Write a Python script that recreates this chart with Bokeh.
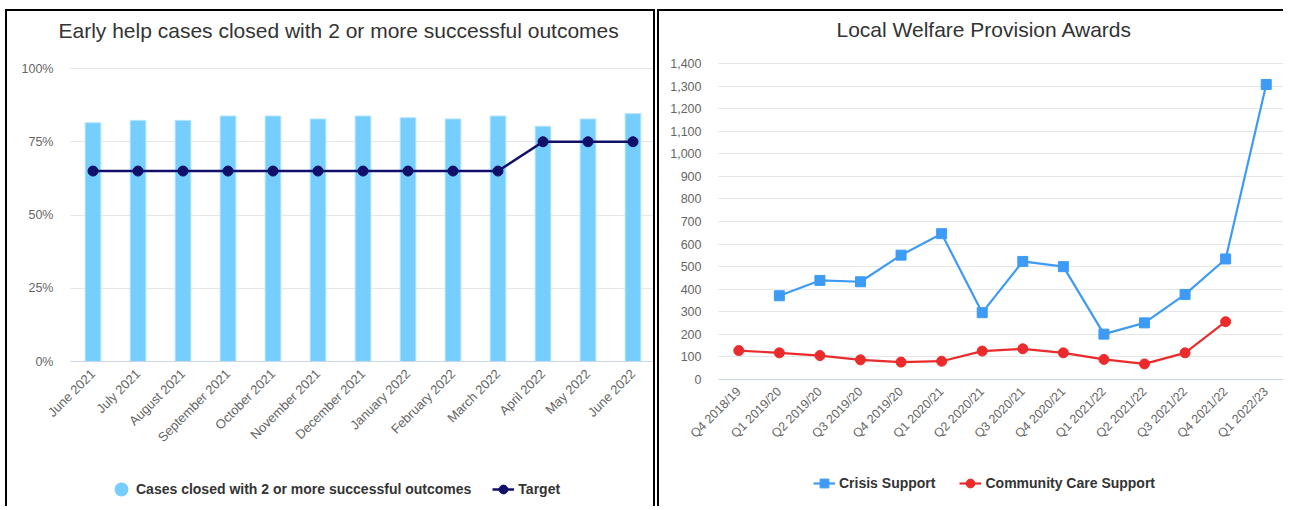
import math
from bokeh.plotting import figure
from bokeh.models import (Range1d, FixedTicker, PrintfTickFormatter, NumeralTickFormatter,
                          Legend, LegendItem, ColumnDataSource, BoxAnnotation)
from bokeh.layouts import row
from bokeh.embed import file_html
from bokeh.resources import INLINE

# ---------------- data ----------------
months = ["June 2021", "July 2021", "August 2021", "September 2021", "October 2021",
          "November 2021", "December 2021", "January 2022", "February 2022",
          "March 2022", "April 2022", "May 2022", "June 2022"]
cases_pct = [81.5, 82.3, 82.3, 83.8, 83.8, 82.8, 83.8, 83.2, 82.8, 83.8, 80.3, 82.8, 84.6]
target_pct = [65, 65, 65, 65, 65, 65, 65, 65, 65, 65, 75, 75, 75]
left_y_ticks = [0, 25, 50, 75, 100]

quarters = ["Q4 2018/19", "Q1 2019/20", "Q2 2019/20", "Q3 2019/20", "Q4 2019/20",
            "Q1 2020/21", "Q2 2020/21", "Q3 2020/21", "Q4 2020/21", "Q1 2021/22",
            "Q2 2021/22", "Q3 2021/22", "Q4 2021/22", "Q1 2022/23"]
nan = float("nan")
crisis_support = [nan, 371, 439, 433, 551, 646, 296, 523, 500, 201, 251, 377, 534, 1307]
community_care = [128, 118, 106, 87, 77, 81, 126, 136, 118, 89, 69, 118, 256, nan]
right_y_ticks = [0, 100, 200, 300, 400, 500, 600, 700, 800, 900, 1000, 1100, 1200, 1300, 1400]

# ---------------- style ----------------
FONT = "Liberation Sans"
BAR = "#76CEFE"
NAVY = "#10106A"
BLUE = "#3E9BF5"
RED = "#EB2B2B"
GRID = "#E6E6E6"
LABEL = "#666666"

H = 497            # canvas height (both charts)
TOP = 32           # space above plot frame (title area)
MB_LEFT = 2        # frame starts almost at the canvas edge; axes drawn inside


def y_range_for(vmin, vmax, px_min, px_max):
    """Value range such that vmin/vmax sit at given pixel rows (from canvas top)."""
    ppu = (px_min - px_max) / (vmax - vmin)
    return Range1d(vmin - (H - px_min) / ppu, vmax + (px_max - TOP) / ppu)


def x_range_for(n, px_left, px_right, width):
    """Numeric category range: n slots between px_left..px_right (from canvas left)."""
    step = (px_right - px_left) / n
    frame_left = MB_LEFT
    frame_right = width
    return Range1d(-0.5 - (px_left - frame_left) / step, n - 0.5 + (frame_right - px_right) / step)


def style(p, labels, title_offset, title_standoff, xlabel_size):
    n = len(labels)
    p.outline_line_color = None
    p.background_fill_color = "white"
    p.border_fill_color = "white"
    p.title.text_font = FONT
    p.title.text_font_size = "21px"
    p.title.text_font_style = "normal"
    p.title.text_color = "#333333"
    p.title.align = "left"
    p.title.offset = title_offset
    p.title.standoff = title_standoff
    p.xgrid.grid_line_color = None
    p.ygrid.grid_line_color = GRID
    p.ygrid.grid_line_width = 1
    for ax in (p.xaxis[0], p.yaxis[0]):
        ax.major_tick_in = 0
        ax.major_tick_out = 0
        ax.minor_tick_in = 0
        ax.minor_tick_out = 0
        ax.major_label_text_font = FONT
        ax.major_label_text_color = LABEL
    p.xaxis.ticker = FixedTicker(ticks=list(range(n)))
    p.xaxis.major_label_overrides = {i: lab for i, lab in enumerate(labels)}
    p.xaxis.major_label_text_font_size = xlabel_size
    p.yaxis.major_label_text_font_size = "12.5px"
    p.xaxis.axis_line_color = "#CCD6EB"
    p.xaxis.axis_line_width = 1
    p.xaxis.fixed_location = 0
    p.xaxis.bounds = (-0.5, n - 0.5)
    p.xaxis.major_label_orientation = math.pi / 4
    p.xaxis.major_label_standoff = 10
    p.yaxis.axis_line_color = None
    p.yaxis.fixed_location = -0.5
    p.yaxis.major_label_standoff = 17
    # hide grid lines left of the plotting area (where the y labels sit)
    p.add_layout(BoxAnnotation(left=p.x_range.start, right=-0.5,
                               bottom=p.y_range.start, top=p.y_range.end,
                               fill_color="white", fill_alpha=1, line_alpha=0,
                               level="underlay"))


def add_legend(p, items, x, y, spacing):
    lg = Legend(items=items, location=(x, y), orientation="horizontal",
                glyph_width=22, glyph_height=22, label_standoff=4,
                padding=0, margin=0, spacing=spacing, border_line_color=None,
                background_fill_alpha=0, label_height=16,
                label_text_font=FONT, label_text_font_size="14px",
                label_text_font_style="bold", label_text_color="#333333")
    p.add_layout(lg, "center")


# ---------------- left chart ----------------
W1 = 650
x1 = list(range(len(months)))
src1 = ColumnDataSource(dict(x=x1, cases=cases_pct, target=target_pct))
p1 = figure(x_range=x_range_for(len(months), 70 - 7, 655 - 7, W1 - 2),
            y_range=y_range_for(0, 100, 361 - 11, 68 - 11),
            width=W1, height=H, output_backend="svg", toolbar_location=None,
            min_border_left=MB_LEFT, min_border_right=2, min_border_top=TOP, min_border_bottom=0,
            title="Early help cases closed with 2 or more successful outcomes")
style(p1, months, 58 - 7 - MB_LEFT, 3, "13px")
p1.yaxis.ticker = FixedTicker(ticks=left_y_ticks)
p1.yaxis.formatter = PrintfTickFormatter(format="%d%%")

p1.vbar(x="x", top="cases", width=0.35, source=src1,
        fill_color=BAR, line_color="#B8E6FF", line_width=1)
t_line = p1.line(x="x", y="target", source=src1, line_color=NAVY, line_width=2.5)
t_pts = p1.scatter(x="x", y="target", source=src1, marker="circle", size=10,
                   fill_color=NAVY, line_color=NAVY)
legend_dot = p1.scatter(x=x1[:1], y=[nan], marker="circle",
                        fill_color=BAR, line_color=BAR, line_width=5)

add_legend(p1, [LegendItem(label="Cases closed with 2 or more successful outcomes",
                           renderers=[legend_dot]),
                LegendItem(label="Target", renderers=[t_line, t_pts])],
           110 - 7 - MB_LEFT, 8, 21)

# ---------------- right chart ----------------
W2 = 626
x2 = list(range(len(quarters)))
src2 = ColumnDataSource(dict(x=x2, crisis=crisis_support, community=community_care))
p2 = figure(x_range=x_range_for(len(quarters), 722 - 663, 1290 - 663, W2),
            y_range=y_range_for(0, 1400, 379 - 11, 63 - 11),
            width=W2, height=H, output_backend="svg", toolbar_location=None,
            min_border_left=MB_LEFT, min_border_right=0, min_border_top=TOP, min_border_bottom=0,
            title="Local Welfare Provision Awards")
style(p2, quarters, 840 - 663 - MB_LEFT, 5, "12.5px")
p2.yaxis.ticker = FixedTicker(ticks=right_y_ticks)
p2.yaxis.formatter = NumeralTickFormatter(format="0,0")

c_line = p2.line(x="x", y="crisis", source=src2, line_color=BLUE, line_width=2.2)
c_pts = p2.scatter(x="x", y="crisis", source=src2, marker="square", size=10,
                   fill_color=BLUE, line_color=BLUE)
k_line = p2.line(x="x", y="community", source=src2, line_color=RED, line_width=2.2)
k_pts = p2.scatter(x="x", y="community", source=src2, marker="circle", size=10,
                   fill_color=RED, line_color=RED)

add_legend(p2, [LegendItem(label="Crisis Support", renderers=[c_line, c_pts]),
                LegendItem(label="Community Care Support", renderers=[k_line, k_pts])],
           817 - 663 - MB_LEFT, 14, 24)

p1.styles = {"border-top": "2px solid #000", "border-left": "2px solid #000",
             "border-right": "2px solid #000"}
p2.styles = {"border-top": "2px solid #000", "border-left": "2px solid #000"}
p1.margin = (9, 0, 0, 5)
p2.margin = (9, 0, 0, 2)

layout = row(p1, p2)
open("out.html", "w").write(file_html(layout, INLINE))
